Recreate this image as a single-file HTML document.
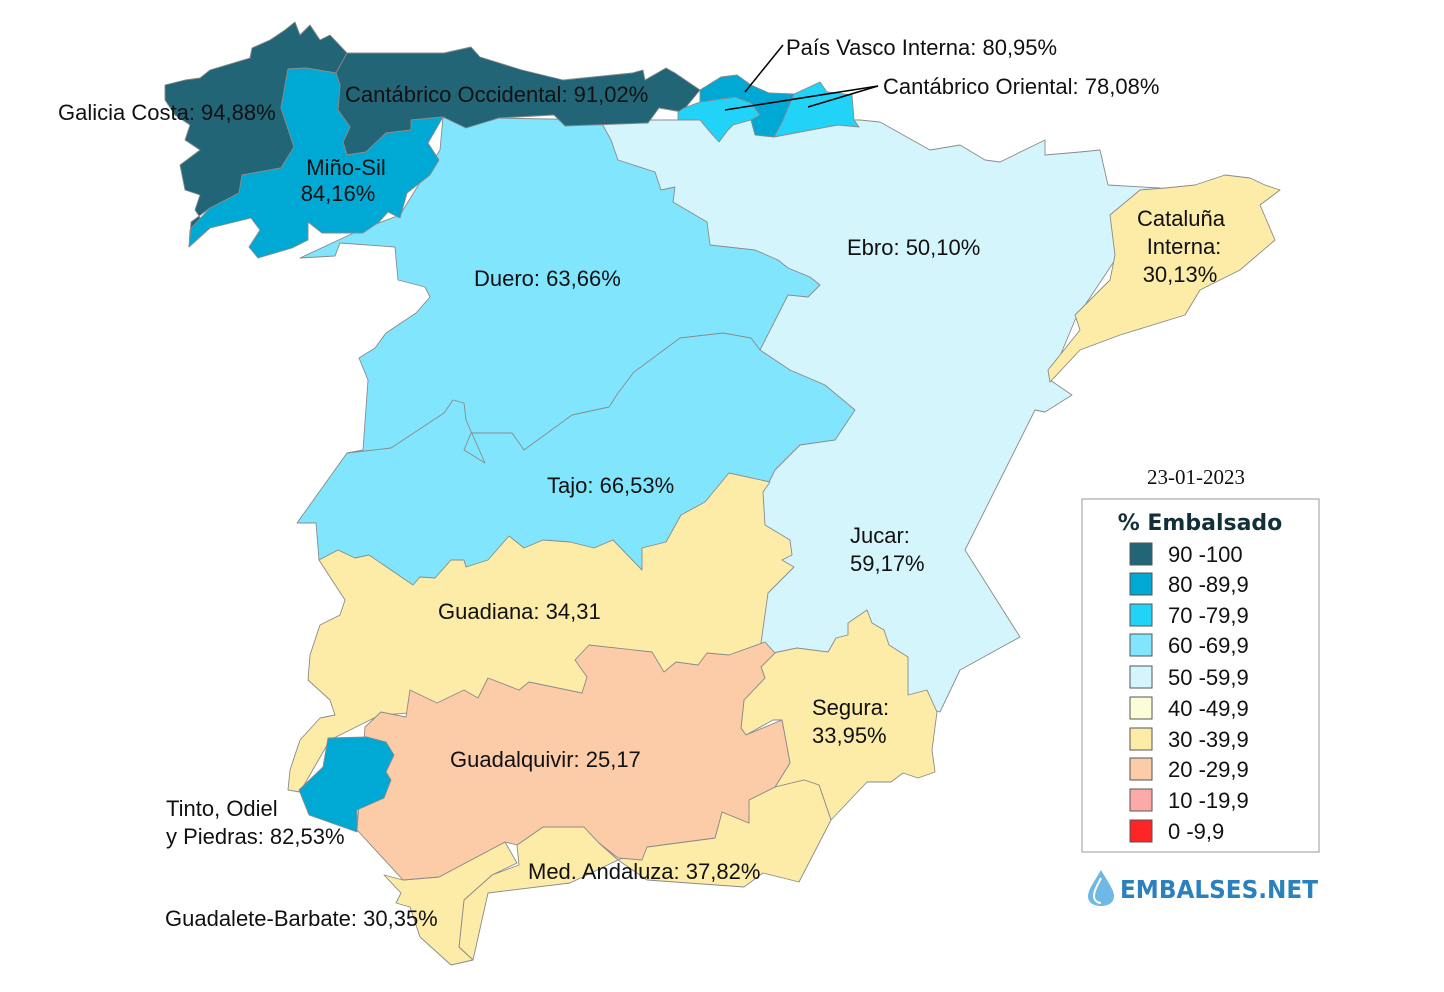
<!DOCTYPE html>
<html><head><meta charset="utf-8"><style>
html,body{margin:0;padding:0;background:#fff;}
svg{display:block;}
text{font-family:"Liberation Sans",Arial,sans-serif;font-size:22px;fill:#111;}
</style></head><body>
<svg width="1444" height="992" viewBox="0 0 1444 992" xmlns="http://www.w3.org/2000/svg">
<g stroke="#8a8a8a" stroke-width="0.9" stroke-linejoin="round">
<polygon fill="#d5f5fd" points="600,120 860,120 880,122 930,150 960,145 985,160 1000,162 1045,140 1045,155 1080,152 1100,150 1108,185 1160,188 1120,215 1115,260 1075,320 1050,380 1072,395 1045,412 1035,410 1000,480 965,550 1020,637 960,670 940,712 900,700 760,700 760,645 700,300 600,300"/>
<polygon fill="#fdeba8" points="1110,215 1140,190 1165,188 1195,185 1225,175 1250,178 1265,185 1280,190 1260,205 1275,240 1240,270 1200,290 1185,315 1120,335 1080,350 1050,382 1048,370 1080,330 1075,315 1110,280 1115,255"/>
<polygon fill="#80e5fd" points="300,258 335,256 340,243 395,247 398,280 425,287 430,297 416,313 386,333 375,348 359,358 368,380 363,450 347,453 297,523 316,523 319,560 420,600 700,600 770,480 775,470 800,445 835,440 855,410 825,385 790,370 760,350 788,295 808,297 820,285 810,277 788,268 778,260 755,250 710,245 707,222 673,202 675,187 661,190 655,172 618,160 611,140 600,120 443,117 440,150 400,215 360,230"/>
<polyline fill="none" points="760,350 751,338 723,333 680,338 634,372 618,393 609,407 572,415 524,450 512,433 471,433 464,450 485,463 466,420 464,403 453,400 444,413 391,448 347,453"/>
<polygon fill="#fdeba8" points="319,560 338,550 355,558 369,555 413,585 420,577 435,578 451,560 464,560 466,567 488,560 509,536 524,548 543,540 570,542 594,548 613,540 642,570 642,548 666,542 681,515 705,502 729,473 770,482 763,492 765,525 790,540 792,555 782,560 794,567 768,593 761,643 770,660 600,700 380,715 330,740 300,792 288,790 290,770 300,740 320,718 335,715 330,700 308,680 310,655 320,625 340,615 345,600"/>
<polygon fill="#fdeba8" points="761,667 773,653 797,648 828,652 836,638 848,635 848,623 867,610 872,623 884,630 889,645 908,657 908,695 927,690 937,712 932,750 935,772 918,778 903,773 891,782 867,782 831,820 819,785 804,780 775,787 790,763 782,720 773,720 746,735 741,728 744,700 765,678"/>
<polygon fill="#fdeba8" points="831,820 819,785 804,780 775,787 749,800 749,823 722,812 715,838 647,847 618,860 599,843 584,827 543,827 517,845 519,865 492,875 464,900 459,947 473,960 488,893 570,883 618,860 647,880 744,887 763,873 799,882"/>
<polygon fill="#fdeba8" points="505,842 517,863 492,875 464,900 459,947 473,960 451,965 420,937 410,907 396,903 401,893 384,875 403,880 439,877"/>
<polygon fill="#fccba8" points="589,645 652,652 664,672 676,662 698,665 707,653 729,655 765,642 775,653 761,667 765,678 744,700 741,728 746,735 782,720 790,763 775,787 749,800 749,823 722,812 715,838 647,847 642,860 618,858 599,843 584,827 543,827 517,845 505,842 439,877 403,880 357,830 365,727 381,712 406,717 410,690 437,703 464,690 478,698 488,678 519,690 529,682 582,693 587,677 575,660"/>
<polygon fill="#00a8d4" points="328,738 367,737 386,742 394,755 386,772 391,780 384,798 357,810 357,832 309,815 299,790 323,767"/>
<polygon fill="#216577" points="189,247 190,230 205,225 195,210 200,195 185,190 180,165 200,150 185,140 190,125 175,115 165,100 165,85 185,80 200,78 210,70 250,58 252,48 270,40 285,30 295,22 300,35 310,25 320,40 330,35 347,53 444,53 471,47 480,57 522,70 563,80 632,73 643,70 645,80 666,68 675,73 700,90 682,112 659,108 648,123 593,125 565,126 554,115 499,118 466,128 443,117 411,120 411,130 386,133 366,152 347,155 343,142 350,127 338,110 340,85 336,73 306,68 288,69 281,108 294,147 281,168 242,175 239,193 210,208 191,222"/>
<polyline fill="none" points="347,53 336,73"/>
<polygon fill="#00a8d4" points="288,69 306,68 336,73 340,85 338,110 350,127 343,142 347,155 366,152 386,133 411,130 411,120 443,117 428,143 439,160 430,175 407,193 400,218 388,212 379,222 363,233 322,233 308,222 308,240 292,248 258,258 249,247 260,230 251,218 210,228 189,247 191,228 210,208 239,193 242,175 281,168 294,147 281,108"/>
<polygon fill="#22d3f8" points="684,108 700,102 735,97 751,103 760,115 751,120 733,125 728,130 719,142 710,132 700,120 678,120 678,112"/>
<polygon fill="#22d3f8" points="792,95 820,82 827,92 852,95 854,120 859,127 838,125 811,130 774,137 783,120"/>
<polygon fill="#00a8d4" points="700,90 721,77 737,75 751,85 769,93 794,94 783,120 774,137 755,135 751,120 760,115 751,103 735,97 700,102"/>
</g>
<g stroke="#000" stroke-width="1.5">
<line x1="783" y1="45" x2="745" y2="92"/>
<line x1="878" y1="86" x2="725" y2="110"/>
<line x1="878" y1="86" x2="808" y2="107"/>
</g>
<text x="58" y="120">Galicia Costa: 94,88%</text>
<text x="345" y="102">Cantábrico Occidental: 91,02%</text>
<text x="346" y="175" text-anchor="middle">Miño-Sil</text>
<text x="338" y="201" text-anchor="middle">84,16%</text>
<text x="786" y="55">País Vasco Interna: 80,95%</text>
<text x="883" y="94">Cantábrico Oriental: 78,08%</text>
<text x="847" y="255">Ebro: 50,10%</text>
<text x="1181" y="226" text-anchor="middle">Cataluña</text>
<text x="1184" y="254" text-anchor="middle">Interna:</text>
<text x="1180" y="282" text-anchor="middle">30,13%</text>
<text x="474" y="286">Duero: 63,66%</text>
<text x="547" y="493">Tajo: 66,53%</text>
<text x="850" y="543">Jucar:</text>
<text x="850" y="571">59,17%</text>
<text x="438" y="619">Guadiana: 34,31</text>
<text x="812" y="715">Segura:</text>
<text x="812" y="743">33,95%</text>
<text x="450" y="767">Guadalquivir: 25,17</text>
<text x="166" y="816">Tinto, Odiel</text>
<text x="166" y="844">y Piedras: 82,53%</text>
<text x="528" y="879">Med. Andaluza: 37,82%</text>
<text x="165" y="926">Guadalete-Barbate: 30,35%</text>
<text x="1196" y="484" text-anchor="middle" style="font-family:'Liberation Serif',serif;font-size:21px">23-01-2023</text>
<rect x="1082" y="499" width="237" height="353" fill="#fff" stroke="#9a9a9a" stroke-width="1"/>
<text x="1200" y="530" text-anchor="middle" style="font-family:'DejaVu Sans',sans-serif;font-weight:bold;font-size:22px;fill:#12303a">% Embalsado</text>
<g stroke="#555" stroke-width="1">
<rect x="1130" y="543" width="22" height="22" fill="#216577"/>
<rect x="1130" y="573" width="22" height="22" fill="#00a8d4"/>
<rect x="1130" y="604" width="22" height="22" fill="#22d3f8"/>
<rect x="1130" y="634" width="22" height="22" fill="#80e5fd"/>
<rect x="1130" y="666" width="22" height="22" fill="#d5f5fd"/>
<rect x="1130" y="697" width="22" height="22" fill="#fafdd8"/>
<rect x="1130" y="728" width="22" height="22" fill="#fdeba8"/>
<rect x="1130" y="758" width="22" height="22" fill="#fccba8"/>
<rect x="1130" y="789" width="22" height="22" fill="#fcaaa8"/>
<rect x="1130" y="820" width="22" height="22" fill="#fd2525"/>
</g>
<text x="1168" y="562">90 -100</text>
<text x="1168" y="592">80 -89,9</text>
<text x="1168" y="623">70 -79,9</text>
<text x="1168" y="653">60 -69,9</text>
<text x="1168" y="685">50 -59,9</text>
<text x="1168" y="716">40 -49,9</text>
<text x="1168" y="747">30 -39,9</text>
<text x="1168" y="777">20 -29,9</text>
<text x="1168" y="808">10 -19,9</text>
<text x="1168" y="839">0 -9,9</text>
<path d="M1101,870 C1094,882 1088,890 1088,896 C1088,903 1094,906 1101,906 C1108,906 1114,903 1114,896 C1114,890 1108,882 1101,870 Z" fill="#6fb8e6"/>
<path d="M1101,878 C1097,886 1094,891 1094,896 C1094,901 1098,903 1101,903" fill="none" stroke="#fff" stroke-width="2"/>
<text x="1120" y="898" textLength="198" lengthAdjust="spacingAndGlyphs" style="font-family:'DejaVu Sans',sans-serif;font-weight:bold;font-size:25px;fill:#2b80bd">EMBALSES.NET</text>
</svg>
</body></html>
